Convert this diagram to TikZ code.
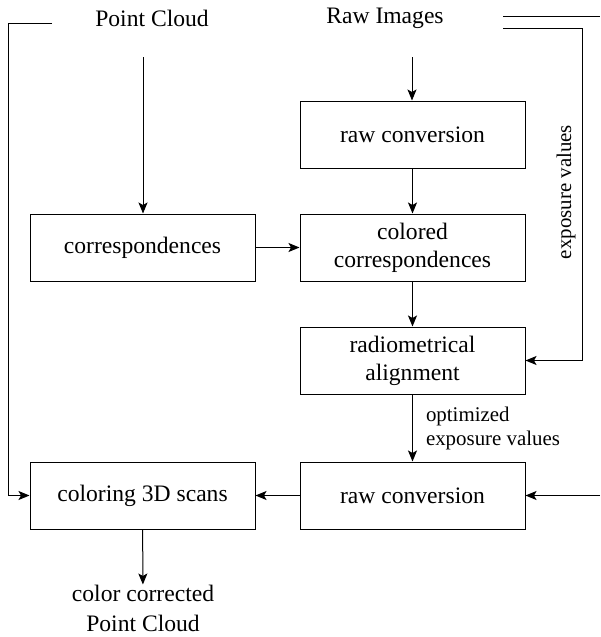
\documentclass[tikz,border=0pt]{standalone}
\usepackage{fontspec}
\setmainfont{Liberation Serif}
\usetikzlibrary{arrows.meta}
\begin{document}
\begin{tikzpicture}[x=1pt,y=-1pt,
  box/.style={draw,line width=1pt,minimum width=225pt,minimum height=67pt,inner sep=0pt,align=center,font=\fontsize{23.6}{28}\selectfont},
  lbl/.style={inner sep=0pt,align=center,font=\fontsize{23.6}{30}\selectfont},
  small/.style={inner sep=0pt,align=left,font=\fontsize{20.9}{24}\selectfont},
  conn/.style={line width=1pt},
  arr/.style={line width=1pt,-{Stealth[length=11pt,width=9pt,inset=2.5pt]}}]
\useasboundingbox (0,0) rectangle (600,637);
% labels
\node[lbl] (pc) at (152,18) {Point Cloud};
\node[lbl] (ri) at (385,18) {Raw Images};
\node[lbl] (out) at (143,608) {color corrected\\Point Cloud};
% boxes
\node[box] (rc1) at (412.5,134.5) {raw conversion};
\node[box] (cc) at (412.5,247.5) {colored\\correspondences};
\node[box] (co) at (142.5,247.5) {correspondences};
\node[box] (ra) at (412.5,360.5) {radiometrical\\alignment};
\node[box] (rc2) at (412.5,495.5) {raw conversion};
\node[box] (cs) at (142.5,495.5) {coloring 3D scans};
% coordinates
\coordinate (pcs) at (143,57);
\coordinate (ris) at (412,57);
\coordinate (tl1) at (52,23);
\coordinate (tl2) at (8,23);
\coordinate (tr1) at (503,16);
\coordinate (tr2) at (600,16);
\coordinate (tr3) at (503,28);
\coordinate (tr4) at (582,28);
\coordinate (br) at (600,495.5);
% connectors
\draw[arr] (pcs) -- (pcs |- co.north);
\draw[arr] (ris) -- (ris |- rc1.north);
\draw[arr] (rc1) -- (cc);
\draw[arr] (co) -- (cc);
\draw[arr] (cc) -- (ra);
\draw[arr] (ra) -- (rc2) node[small,pos=0.5,right=13pt] {optimized\\exposure values};
\draw[arr] (rc2) -- (cs);
\draw[arr] (cs) -- (out);
\draw[arr] (tl1) -- (tl2) -- (tl2 |- cs.west) -- (cs.west);
\draw[conn] (tr1) -- (tr2);
\draw[arr] (tr3) -- (tr4) -- (tr4 |- ra.east) -- (ra.east);
\draw[arr] (br) -- (rc2.east);
\node[small,rotate=90] (ev) at (566,192) {exposure values};
\end{tikzpicture}
\end{document}
